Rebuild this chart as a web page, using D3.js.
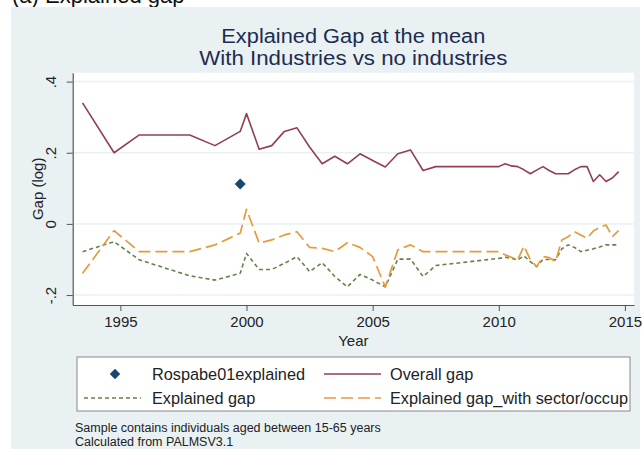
<!DOCTYPE html>
<html>
<head>
<meta charset="utf-8">
<script src="https://cdn.jsdelivr.net/npm/d3@7"></script>
<style>
  html, body { margin: 0; padding: 0; background: #ffffff; }
  svg { display: block; font-family: "Liberation Sans", Arial, sans-serif; }
</style>
</head>
<body>
<svg id="chart" width="644" height="449"></svg>
<script>
// ---- data ----
const years = [1993.5, 1994.75, 1995.75, 1997.75, 1998.75, 1999.75,
  2000, 2000.5, 2001, 2001.5, 2002, 2002.5, 2003, 2003.5, 2004, 2004.5,
  2005, 2005.5, 2006, 2006.5, 2007, 2007.5,
  2010, 2010.25, 2010.5, 2010.75, 2011, 2011.25, 2011.5, 2011.75,
  2012, 2012.25, 2012.5, 2012.75, 2013, 2013.25, 2013.5, 2013.75,
  2014, 2014.25, 2014.5, 2014.75];
const overallGap = [0.34, 0.20, 0.25, 0.25, 0.22, 0.26,
  0.31, 0.21, 0.22, 0.26, 0.27, 0.216, 0.169, 0.19, 0.169, 0.197,
  0.178, 0.16, 0.197, 0.208, 0.15, 0.161,
  0.161, 0.169, 0.163, 0.161, 0.152, 0.141, 0.151, 0.161,
  0.15, 0.141, 0.141, 0.141, 0.152, 0.161, 0.161, 0.119,
  0.138, 0.119, 0.129, 0.147];
const explainedGap = [-0.078, -0.05, -0.101, -0.146, -0.158, -0.139,
  -0.083, -0.128, -0.128, -0.111, -0.092, -0.134, -0.109, -0.148, -0.177, -0.142,
  -0.158, -0.177, -0.099, -0.099, -0.148, -0.117,
  -0.097, -0.094, -0.097, -0.101, -0.09, -0.106, -0.12, -0.1,
  -0.1, -0.101, -0.07, -0.059, -0.066, -0.078, -0.074, -0.07,
  -0.065, -0.059, -0.059, -0.059];
const sectorGap = [-0.139, -0.019, -0.078, -0.078, -0.059, -0.026,
  0.041, -0.054, -0.045, -0.031, -0.022, -0.066, -0.069, -0.078, -0.053, -0.066,
  -0.092, -0.177, -0.073, -0.059, -0.078, -0.078,
  -0.078, -0.087, -0.094, -0.101, -0.062, -0.101, -0.12, -0.092,
  -0.095, -0.106, -0.045, -0.036, -0.022, -0.031, -0.04, -0.02,
  -0.01, -0.003, -0.036, -0.019];
const rospabeYear = [1999.75];
const rospabeValue = [0.112];
const xTicks = [1995, 2000, 2005, 2010, 2015];
const yTicks = [-0.2, 0, 0.2, 0.4];
const yTickLabels = ["-.2", "0", ".2", ".4"];
const titleLines = ["Explained Gap at the mean", "With Industries vs no industries"];
const legendLabels = ["Rospabe01explained", "Overall gap", "Explained gap", "Explained gap_with sector/occup"];
const notes = ["Sample contains individuals aged between 15-65 years", "Calculated from PALMSV3.1"];

// ---- styles ----
const C = {
  bg: "#e9f1f3", grid: "#eaf1f3", axis: "#555",
  navy: "#1a476f", maroon: "#92404f", green: "#64834a", orange: "#e89a3a",
  title: "#1d2c4f", text: "#222"
};

const svg = d3.select("#chart");
const L = 72.7, R = 634, T = 72.7, B = 305;

// outer backgrounds
svg.append("rect").attr("x", 0).attr("y", 0).attr("width", 644).attr("height", 449).attr("fill", "#fff");
svg.append("text").attr("x", 12).attr("y", 3).attr("font-size", 22).attr("fill", "#111")
  .text("(a) Explained gap");
svg.append("rect").attr("x", 11).attr("y", 7).attr("width", 629).attr("height", 442).attr("fill", C.bg);
svg.append("rect").attr("x", L).attr("y", T).attr("width", R - L).attr("height", B - T).attr("fill", "#fff");

const x = d3.scaleLinear().domain([1993.11, 2015.36]).range([L, R]);
const y = d3.scaleLinear().domain([-0.228, 0.425]).range([B, T]);

// grid
svg.append("g").selectAll("line").data(yTicks).join("line")
  .attr("x1", L + 1).attr("x2", R).attr("y1", d => y(d)).attr("y2", d => y(d))
  .attr("stroke", C.grid).attr("stroke-width", 1.5);

// title
const titleWidths = [264, 308];
svg.append("g").selectAll("text").data(titleLines).join("text")
  .attr("x", (L + R) / 2).attr("y", (d, i) => 43 + i * 22)
  .attr("text-anchor", "middle").attr("font-size", 20).attr("fill", C.title)
  .attr("textLength", (d, i) => titleWidths[i]).attr("lengthAdjust", "spacingAndGlyphs")
  .text(d => d);

// lines
const series = [
  { vals: explainedGap, color: C.green, dash: "4,3", w: 1.6 },
  { vals: sectorGap, color: C.orange, dash: "12,5", w: 1.7 },
  { vals: overallGap, color: C.maroon, dash: null, w: 1.6 }
];
const lineGen = d3.line().x(d => x(d[0])).y(d => y(d[1]));
series.forEach(s => {
  svg.append("path").datum(years.map((yr, i) => [yr, s.vals[i]]))
    .attr("d", lineGen).attr("fill", "none").attr("stroke", s.color)
    .attr("stroke-width", s.w).attr("stroke-dasharray", s.dash)
    .attr("stroke-linejoin", "round");
});

// diamond marker
svg.append("g").selectAll("path").data(rospabeYear).join("path")
  .attr("transform", (d, i) => `translate(${x(d)},${y(rospabeValue[i])}) rotate(45)`)
  .attr("d", d3.symbol().type(d3.symbolSquare).size(60)).attr("fill", C.navy);

// axes
const xAxis = d3.axisBottom(x).tickValues(xTicks).tickFormat(d3.format("d")).tickSize(6).tickSizeOuter(0);
const gx = svg.append("g").attr("transform", `translate(0,${B})`).call(xAxis);
gx.select(".domain").attr("stroke", C.axis).attr("stroke-width", 1.2);
gx.selectAll(".tick line").attr("stroke", C.axis);
gx.selectAll(".tick text").attr("font-size", 15).attr("fill", C.text).attr("dy", "0.85em")
  .attr("font-family", "Liberation Sans, Arial, sans-serif");

const yAxis = d3.axisLeft(y).tickValues(yTicks).tickFormat((d, i) => yTickLabels[i]).tickSize(6).tickSizeOuter(0);
const gy = svg.append("g").attr("transform", `translate(${L},0)`).call(yAxis);
gy.select(".domain").attr("stroke", C.axis).attr("stroke-width", 1.2);
gy.selectAll(".tick line").attr("stroke", C.axis);
gy.selectAll(".tick text").attr("font-size", 15).attr("fill", C.text)
  .attr("font-family", "Liberation Sans, Arial, sans-serif")
  .attr("text-anchor", "middle").attr("x", 0).attr("dy", 0)
  .attr("transform", "translate(-17,0) rotate(-90)");

// axis titles
svg.append("text").attr("x", (L + R) / 2).attr("y", 346).attr("text-anchor", "middle")
  .attr("font-size", 15).attr("fill", C.text).text("Year");
svg.append("text").attr("transform", `translate(43,${(T + B) / 2}) rotate(-90)`)
  .attr("text-anchor", "middle").attr("font-size", 15).attr("fill", C.text).text("Gap (log)");

// legend
const lg = svg.append("g");
lg.append("rect").attr("x", 77).attr("y", 357).attr("width", 553).attr("height", 54)
  .attr("fill", "#fff").attr("stroke", "#888").attr("stroke-width", 1);
const legItems = [
  { type: "marker", color: C.navy, sx: 84, tx: 152, ty: 374 },
  { type: "line", color: C.maroon, dash: null, sx: 324, tx: 390, ty: 374 },
  { type: "line", color: C.green, dash: "4,3", sx: 84, tx: 152, ty: 398 },
  { type: "line", color: C.orange, dash: "12,5", sx: 324, tx: 390, ty: 398 }
];
legItems.forEach((it, i) => {
  if (it.type === "marker") {
    lg.append("path").attr("transform", `translate(${it.sx + 31},${it.ty}) rotate(45)`)
      .attr("d", d3.symbol().type(d3.symbolSquare).size(55)).attr("fill", it.color);
  } else {
    lg.append("line").attr("x1", it.sx).attr("x2", it.sx + 57).attr("y1", it.ty).attr("y2", it.ty)
      .attr("stroke", it.color).attr("stroke-width", 1.6).attr("stroke-dasharray", it.dash);
  }
  lg.append("text").attr("x", it.tx).attr("y", it.ty + 6).attr("font-size", 16.3).attr("fill", C.text)
    .text(legendLabels[i]);
});

// notes
svg.append("g").selectAll("text").data(notes).join("text")
  .attr("x", 75).attr("y", (d, i) => 432 + i * 13.5).attr("font-size", 12.5).attr("fill", C.text)
  .text(d => d);
</script>
</body>
</html>
